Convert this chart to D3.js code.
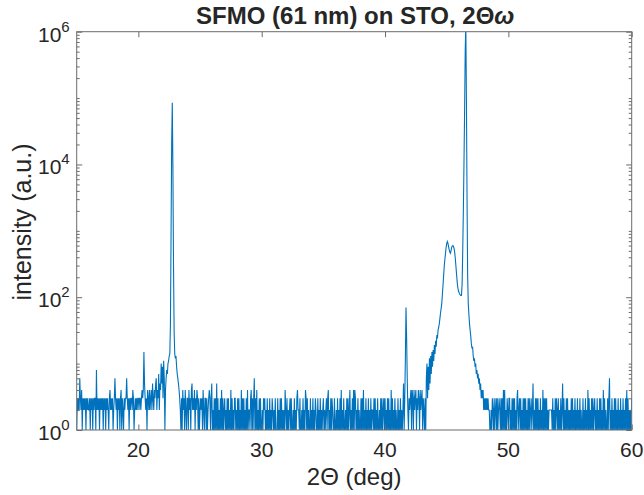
<!DOCTYPE html>
<html>
<head>
<meta charset="utf-8">
<script src="https://cdn.jsdelivr.net/npm/d3@7"></script>
<style>
  body { margin: 0; background: #fff; }
  text { font-family: "Liberation Sans", Arial, Helvetica, sans-serif; fill: #262626; }
</style>
</head>
<body>
<svg id="fig" width="644" height="495"></svg>
<script>
// scan grid: 15..60 deg in 0.05 deg steps
var scanStart = 15, scanStep = 0.05;

// background counts, one digit per step, one row per degree (15, 16, ... 60)
var bgRows = [
  "13232632413232313232", // 15
  "23132313233182323132", // 16
  "32313231323213423231", // 17
  "23632313231341321323", // 18
  "36323132332431232323", // 19
  "32332343443323143242", // 20
  "34253243562437254352", // 21
  "11111111111111111111", // 22
  "11111111113142314213", // 23
  "31423145232413243131", // 24
  "23231421331312343135", // 25
  "12131315131213141312", // 26
  "31213131214131213312", // 27
  "13131214131312131412", // 28
  "21341313613141213131", // 29
  "12132312131213121321", // 30
  "21311131213131212142", // 31
  "13121231311213121342", // 32
  "21311213121431312113", // 33
  "12131213211312131212", // 34
  "31212313412131321131", // 35
  "12131213141213112131", // 36
  "31241213141431213121", // 37
  "13131412131213121312", // 38
  "21313121311213131231", // 39
  "31213131214131213121", // 40
  "13121312125111111113", // 41
  "23414314234132431423", // 42
  "41321311111111111111", // 43
  "11111111111111111111", // 44
  "11111111111111111111", // 45
  "11111111111111111111", // 46
  "11111111111111111111", // 47
  "11111111111121321312", // 48
  "31312321313141412132", // 49
  "13312131313121341231", // 50
  "31213131312131312312", // 51
  "51213131312131214131", // 52
  "31312122222131213132", // 53
  "13121312513121313121", // 54
  "21313121312131213121", // 55
  "13121312141312131312", // 56
  "31213121313121413121", // 57
  "13136121312131312131", // 58
  "21312131213141312121", // 59
  "3"                     // 60
];

// peaks, on the same 0.05 deg grid, starting at the given angle
var spikeStart = 20.40;
var spikeCounts = [4, 15, 5];

var sto001Start = 21.80;
var sto001Counts = [4, 10, 5, 9, 3, 11, 6, 1, 4, 6, 8, 7, 10, 11, 13, 14, 40, 800,
  20000, 85000, 9000, 300, 30, 14, 12, 13, 9, 7, 6, 5, 4, 3, 2, 1];

var lineStart = 41.55;
var lineCounts = [1, 3, 12, 70, 25, 6, 2, 1];

var filmStart = 43.30;
var filmCounts = [
  1, 6, 10, 3, 9, 4, 12, 5, 13, 7, 15, 9, 16, 11,
  19, 14, 22, 18, 27, 24, 32, 35, 40, 48, 58, 68, 80, 110, 150, 210, 290, 370, 450, 560,
  640, 690, 650, 580, 520, 480, 460, 500, 560, 590, 600, 580, 540, 470, 380, 290, 220, 170, 140, 125,
  118, 112, 108, 106, 107, 160, 500, 2000, 10000, 60000, 500000, 1300000, 90000, 3000, 200, 80, 55, 40, 32, 26,
  20, 17, 18, 13, 11, 12, 9, 10, 7, 8, 6, 7, 5, 6, 4, 5, 3, 4, 3, 4,
  2, 3, 2, 3, 2, 3, 2, 3, 2, 2, 1
];

var xTicks = [20, 30, 40, 50, 60];
var yTicks = [1, 1e2, 1e4, 1e6];

// --- build series
var counts = new Map();
bgRows.forEach(function(row, r) {
  var base = Math.round((scanStart + r) / scanStep);
  row.split('').forEach(function(c, j) { counts.set(base + j, +c); });
});
[[spikeStart, spikeCounts], [sto001Start, sto001Counts],
 [lineStart, lineCounts], [filmStart, filmCounts]].forEach(function(seg) {
  var base = Math.round(seg[0] / scanStep);
  seg[1].forEach(function(v, i) { counts.set(base + i, v); });
});
var data = Array.from(counts.entries())
  .sort(function(a, b) { return a[0] - b[0]; })
  .map(function(e) { return {x: e[0] * scanStep, y: e[1]}; });

// --- layout
var svg = d3.select('#fig');
var pLeft = 76.7, pRight = 631.7, pTop = 31.7, pBottom = 430;
var axisColor = '#6b6b6b';

var x = d3.scaleLinear().domain([15, 60]).range([pLeft, pRight]);
var y = d3.scaleLog().domain([1, 1e6]).range([pBottom, pTop]);

svg.append('clipPath').attr('id', 'plotclip')
  .append('rect').attr('x', pLeft).attr('y', pTop)
  .attr('width', pRight - pLeft).attr('height', pBottom - pTop);

svg.append('path')
  .datum(data)
  .attr('clip-path', 'url(#plotclip)')
  .attr('fill', 'none')
  .attr('stroke', '#0072BD')
  .attr('stroke-width', 1.1)
  .attr('d', d3.line().x(function(d) { return x(d.x); }).y(function(d) { return y(d.y); }));

// minor log ticks
var minorTicks = [];
for (var e = 0; e < 6; e++) for (var k = 2; k <= 9; k++) minorTicks.push(k * Math.pow(10, e));
minorTicks = minorTicks.concat([10, 1e3, 1e5]);

function styleAxis(g) {
  g.select('.domain').remove();
  g.selectAll('line').attr('stroke', axisColor).attr('stroke-width', 1);
  g.selectAll('text').remove();
}

svg.append('g').attr('transform', 'translate(0,' + pBottom + ')')
  .call(d3.axisBottom(x).tickValues(xTicks).tickSize(-5.5)).call(styleAxis);
svg.append('g').attr('transform', 'translate(0,' + pTop + ')')
  .call(d3.axisTop(x).tickValues(xTicks).tickSize(-5.5)).call(styleAxis);
svg.append('g').attr('transform', 'translate(' + pLeft + ',0)')
  .call(d3.axisLeft(y).tickValues(yTicks).tickSize(-5.5)).call(styleAxis);
svg.append('g').attr('transform', 'translate(' + pRight + ',0)')
  .call(d3.axisRight(y).tickValues(yTicks).tickSize(-5.5)).call(styleAxis);
svg.append('g').attr('transform', 'translate(' + pLeft + ',0)')
  .call(d3.axisLeft(y).tickValues(minorTicks).tickSize(-3)).call(styleAxis);
svg.append('g').attr('transform', 'translate(' + pRight + ',0)')
  .call(d3.axisRight(y).tickValues(minorTicks).tickSize(-3)).call(styleAxis);

// box
svg.append('rect')
  .attr('x', pLeft).attr('y', pTop)
  .attr('width', pRight - pLeft).attr('height', pBottom - pTop)
  .attr('fill', 'none').attr('stroke', axisColor).attr('stroke-width', 1);

// tick labels
svg.append('g').selectAll('text').data(xTicks).join('text')
  .attr('x', function(d) { return x(d); })
  .attr('y', 457)
  .attr('text-anchor', 'middle')
  .attr('font-size', 21)
  .text(function(d) { return d; });

var yl = svg.append('g').selectAll('text').data(yTicks).join('text')
  .attr('x', pLeft - 7)
  .attr('y', function(d) { return y(d) + 10; })
  .attr('text-anchor', 'end')
  .attr('font-size', 21);
yl.append('tspan').text('10');
yl.append('tspan').attr('dy', -10).attr('font-size', 15)
  .text(function(d) { return Math.round(Math.log10(d)); });

// axis titles
svg.append('text')
  .attr('x', (pLeft + pRight) / 2).attr('y', 485)
  .attr('text-anchor', 'middle').attr('font-size', 24)
  .text('2\u0398 (deg)');

svg.append('text')
  .attr('transform', 'translate(31,222) rotate(-90)')
  .attr('text-anchor', 'middle').attr('font-size', 25)
  .text('intensity (a.u.)');

var title = svg.append('text')
  .attr('x', (pLeft + pRight) / 2 + 1).attr('y', 24)
  .attr('text-anchor', 'middle').attr('font-size', 24).attr('font-weight', 'bold');
title.append('tspan').text('SFMO (61 nm) on STO, 2\u0398');
title.append('tspan').attr('font-style', 'italic').text('\u03C9');
</script>
</body>
</html>
